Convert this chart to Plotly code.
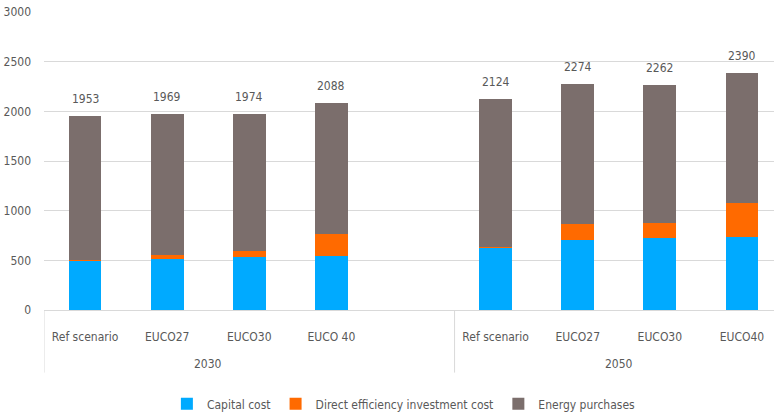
import plotly.graph_objects as go

years = ["2030", "2050"]
scenarios = ["Ref scenario", "EUCO27", "EUCO30", "EUCO 40", "",
             "Ref scenario", "EUCO27", "EUCO30", "EUCO40"]
capital_cost = [497, 515, 529, 542, None, 632, 705, 725, 738]
direct_eff_cost = [6, 37, 60, 219, None, 5, 163, 153, 344]
energy_purchases = [1450, 1417, 1385, 1327, None, 1487, 1406, 1384, 1308]
totals = [1953, 1969, 1974, 2088, None, 2124, 2274, 2262, 2390]
y_ticks = [0, 500, 1000, 1500, 2000, 2500, 3000]

FONT = "DejaVu Sans Condensed"
GREY_TXT = "#595959"
FS = 12

xpos = list(range(len(scenarios)))

fig = go.Figure()
for name, vals, col in [("Capital cost", capital_cost, "#00AAFF"),
                        ("Direct efficiency investment cost", direct_eff_cost, "#FF6A00"),
                        ("Energy purchases", energy_purchases, "#7B6E6C")]:
    fig.add_trace(go.Bar(x=xpos, y=vals, name=name, marker_color=col,
                         marker_line_width=0, width=0.4))

annotations = []
for xv, t in zip(xpos, totals):
    if t is None:
        continue
    annotations.append(dict(text=str(t), x=xv, y=t, xref="x", yref="y",
                            showarrow=False, yanchor="middle", yshift=17,
                            font=dict(family=FONT, size=FS, color=GREY_TXT)))

shapes = []
for xv in [-0.5, 4.5]:
    shapes.append(dict(type="line", xref="x", yref="paper", x0=xv, x1=xv,
                       y0=0, y1=-0.21, line=dict(color="#D9D9D9", width=1)))

for yr, cx in zip(years, [1.5, 6.5]):
    annotations.append(dict(text=yr, x=cx, xref="x", y=-0.182, yref="paper",
                            showarrow=False, yanchor="middle",
                            font=dict(family=FONT, size=FS, color=GREY_TXT)))

fig.update_layout(
    width=774, height=419,
    margin=dict(l=44, r=0, t=12, b=107),
    plot_bgcolor="white", paper_bgcolor="white",
    barmode="stack",
    font=dict(family=FONT, size=FS, color=GREY_TXT),
    shapes=shapes, annotations=annotations,
    legend=dict(orientation="h", x=0.493, xanchor="center", y=-0.315,
                yanchor="middle", font=dict(family=FONT, size=FS, color=GREY_TXT),
                traceorder="normal"),
    xaxis=dict(range=[-0.5, 8.39], tickvals=xpos, ticktext=scenarios,
               showgrid=False, zeroline=False, showline=True, automargin=False,
               linecolor="#D9D9D9", linewidth=1, ticks="",
               ticklabelstandoff=16, tickfont=dict(family=FONT, size=FS, color=GREY_TXT)),
    yaxis=dict(range=[0, 3000], tickvals=y_ticks, showgrid=True, automargin=False,
               gridcolor="#D9D9D9", gridwidth=1, zeroline=False,
               ticks="", ticklabelstandoff=12,
               tickfont=dict(family=FONT, size=FS, color=GREY_TXT)),
)

fig.write_html("out.html", config={"displayModeBar": False},
               post_script="document.body.style.margin='0';document.body.style.overflow='hidden';")
